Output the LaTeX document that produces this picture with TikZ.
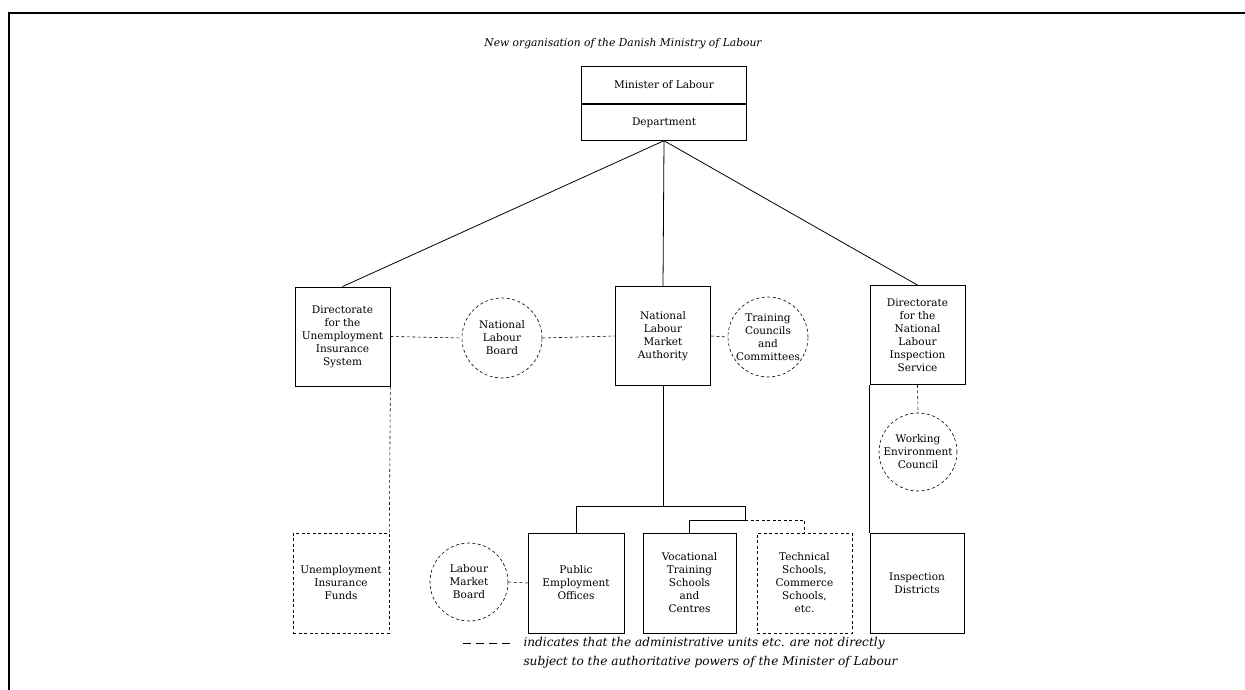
\documentclass[tikz,border=0pt]{standalone}
\usepackage{fontspec}
\setmainfont{DejaVu Serif}
\usepackage{tikz}
\usetikzlibrary{calc,positioning}

\begin{document}
\begin{tikzpicture}[x=1pt, y=-1pt,
    unit/.style={draw, line width=0.8pt, minimum width=95, minimum height=99,
      align=center, inner sep=1pt, font=\fontsize{10.5}{13}\selectfont},
    loose/.style={unit, dash pattern=on 3pt off 2.5pt, line width=0.6pt},
    council/.style={circle, draw, dash pattern=on 3pt off 2.5pt, line width=0.6pt,
      minimum size=80, inner sep=0pt, align=center, font=\fontsize{10.5}{13}\selectfont},
    link/.style={line width=0.8pt},
    looselink/.style={dash pattern=on 3pt off 2.5pt, line width=0.6pt}]

    \useasboundingbox (0,0) rectangle (1245,690);

    % Frame
    \draw[line width=1.8pt] (9,690) -- (9,13) -- (1245,13);

    \node[font=\itshape\fontsize{10.7}{13}\selectfont] (title) at (623,44)
      {New organisation of the Danish Ministry of Labour};

    % Top
    \node[unit, minimum width=165, minimum height=37] (minister) at (664,85) {Minister of Labour};
    \node[unit, minimum width=165, minimum height=36, below=0pt of minister] (dept) {Department};

    % Directorates and authority
    \node[unit] (dirU) at (342.5,336.5) {Directorate\\for the\\Unemployment\\Insurance\\System};
    \node[unit] (nlma) at (663,336) {National\\Labour\\Market\\Authority};
    \node[unit] (dirI) at (917.5,335) {Directorate\\for the\\National\\Labour\\Inspection\\Service};

    % Councils
    \node[council] (nlb) at (502,338) {National\\Labour\\Board};
    \node[council] (tcc) at (768,337) {Training\\Councils\\and\\Committees};
    \node[council, minimum size=78] (wec) at (918,452) {Working\\Environment\\Council};
    \node[council, minimum size=78] (lmb) at (469,582) {Labour\\Market\\Board};

    % Bottom row
    \node[loose, minimum width=96, minimum height=100] (uif) at (341,583) {Unemployment\\Insurance\\Funds};
    \node[unit, minimum width=96, minimum height=100] (peo) at (576,583) {Public\\Employment\\Offices};
    \node[unit, minimum width=93, minimum height=100] (vtsc) at (689.5,583) {Vocational\\Training\\Schools\\and\\Centres};
    \node[loose, minimum width=95, minimum height=100] (tech) at (804.5,583) {Technical\\Schools,\\Commerce\\Schools,\\etc.};
    \node[unit, minimum width=94, minimum height=100] (insp) at (917,583.5) {Inspection\\Districts};

    % Lines from the department
    \draw[link] (dept.south) -- (dirU.north);
    \draw[link] (dept.south) -- (nlma.north);
    \draw[link] (dept.south) -- (dirI.north);

    \draw[looselink] (dirU.east) -- (nlb.west);
    \draw[looselink] (nlb.east) -- (nlma.west);
    \draw[looselink] (nlma.east) -- (tcc.west);
    \draw[looselink] (dirU.south east) -- (uif.north east);
    \draw[looselink] (dirI.south) -- (wec.north);
    \draw[link] (dirI.south west) -- (insp.north west);
    \draw[looselink] (lmb.east) -- (peo.west);

    % Schools fork
    \coordinate (fork) at (663,506);
    \coordinate (fork2) at (745,520);
    \draw[link] (nlma.south) -- (fork);
    \draw[link] (peo.north) |- (fork2 |- fork) -- (fork2);
    \draw[link] (vtsc.north) |- (fork2);
    \draw[looselink] (fork2) -| (tech.north);

    % Legend
    \node[anchor=west, align=left, font=\itshape\fontsize{12.1}{19}\selectfont] (legend) at (520,652.5)
      {indicates that the administrative units etc. are not directly\\
       subject to the authoritative powers of the Minister of Labour};
    \coordinate (dashend) at (463,643);
    \draw[dash pattern=on 8pt off 5pt, line width=0.7pt] (dashend) -- (513,643);
\end{tikzpicture}
\end{document}
